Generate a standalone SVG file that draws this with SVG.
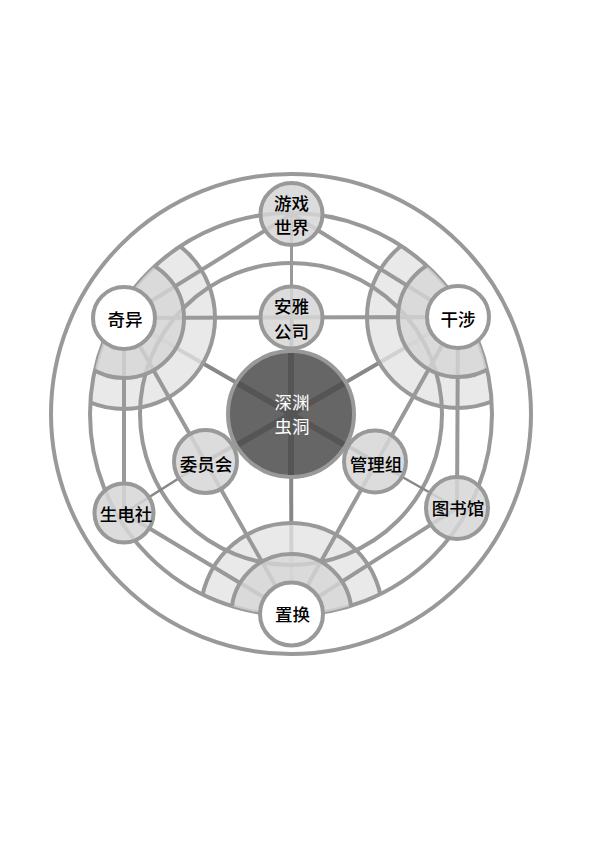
<svg xmlns="http://www.w3.org/2000/svg" width="595" height="842" viewBox="0 0 595 842">
<defs>
<clipPath id="inner"><circle cx="291" cy="414" r="201"/></clipPath>
<style>
.ln{stroke:#999;stroke-width:4;fill:none}
.sp{stroke:#888;stroke-width:4;fill:none}
.thin{stroke:#888;stroke-width:2.5;fill:none}
.halo{fill:#e4e4e4;fill-opacity:0.8}
.core{fill:#d6d6d6;fill-opacity:0.8}
.rim{fill:none;stroke:#999;stroke-width:4}
.nd{stroke:#999;stroke-width:4}
.gray{fill:#d6d6d6;fill-opacity:0.85}
.white{fill:#fff}
.dk{stroke:#555;stroke-width:6}
text{font-family:"Noto Sans CJK SC","Noto Sans",sans-serif;font-size:17.5px;font-weight:500;fill:#000;text-anchor:middle;dominant-baseline:central}
.wt{fill:#fff;font-weight:400}
</style>
</defs>
<rect width="595" height="842" fill="#fff"/>

<g id="spokes">
<line class="sp" x1="291" y1="414" x2="124" y2="318"/>
<line class="sp" x1="291" y1="414" x2="458" y2="317"/>
<line class="sp" x1="291" y1="414" x2="291.5" y2="614"/>
<line class="sp" x1="291" y1="414" x2="205.5" y2="461.5"/>
<line class="sp" x1="291" y1="414" x2="375" y2="461.5"/>
<line class="sp" x1="291" y1="414" x2="291.5" y2="317.5"/>
</g>

<g id="zones-halo" clip-path="url(#inner)">
<circle class="halo" cx="124" cy="318" r="91"/>
<circle class="halo" cx="458" cy="317" r="91"/>
<circle class="halo" cx="291.5" cy="614" r="91"/>
</g>

<g id="connectors">
<circle class="ln" cx="291" cy="414" r="240"/>
<circle class="ln" cx="291" cy="414" r="201"/>
<circle class="ln" cx="291" cy="414" r="151"/>
<polygon class="ln" points="291.5,214 458,317 457,508 291.5,614 124,513 124,318"/>
<polygon class="ln" points="124,318 458,317 291.5,614"/>
<line class="ln" style="stroke-width:3" x1="291.5" y1="214" x2="291.5" y2="317.5"/>
<line class="thin" x1="205.5" y1="461.5" x2="124" y2="513"/>
<line class="thin" x1="375" y1="461.5" x2="457" y2="508"/>
</g>

<g id="zones-core" clip-path="url(#inner)">
<circle class="core" cx="124" cy="318" r="60"/>
<circle class="core" cx="458" cy="317" r="60"/>
<circle class="core" cx="291.5" cy="614" r="60"/>
<circle class="rim" cx="124" cy="318" r="60"/>
<circle class="rim" cx="458" cy="317" r="60"/>
<circle class="rim" cx="291.5" cy="614" r="60"/>
<circle class="rim" cx="124" cy="318" r="91"/>
<circle class="rim" cx="458" cy="317" r="91"/>
<circle class="rim" cx="291.5" cy="614" r="91"/>
</g>

<g id="node-center">
<circle cx="291" cy="414" r="63" fill="#666" stroke="#999" stroke-width="4"/>
<line class="dk" x1="291" y1="414" x2="291" y2="353"/>
<line class="dk" x1="291" y1="414" x2="291" y2="475"/>
<line class="dk" x1="291" y1="414" x2="238.2" y2="383.5"/>
<line class="dk" x1="291" y1="414" x2="343.8" y2="383.5"/>
<line class="dk" x1="291" y1="414" x2="238.2" y2="444.5"/>
<line class="dk" x1="291" y1="414" x2="343.8" y2="444.5"/>
<text class="wt" x="292" y="401">深渊</text>
<text class="wt" x="292" y="425">虫洞</text>
</g>

<g id="node-youxi">
<circle class="nd gray" cx="291.5" cy="214" r="31"/>
<text x="291.5" y="202">游戏</text>
<text x="291.5" y="226.5">世界</text>
</g>
<g id="node-anya">
<circle class="nd gray" cx="291.5" cy="317.5" r="31"/>
<text x="291.5" y="305.5">安雅</text>
<text x="291.5" y="330">公司</text>
</g>
<g id="node-qiyi">
<circle class="nd white" cx="124" cy="318" r="31"/>
<text x="125" y="318">奇异</text>
</g>
<g id="node-ganshe">
<circle class="nd white" cx="458" cy="317" r="31"/>
<text x="458" y="318">干涉</text>
</g>
<g id="node-weiyuanhui">
<circle class="nd gray" cx="205.5" cy="461.5" r="31.5"/>
<text x="206" y="463">委员会</text>
</g>
<g id="node-guanlizu">
<circle class="nd gray" cx="375" cy="461.5" r="31"/>
<text x="376" y="463">管理组</text>
</g>
<g id="node-shengdianshe">
<circle class="nd gray" cx="124" cy="513" r="29.5"/>
<text x="126" y="513">生电社</text>
</g>
<g id="node-tushuguan">
<circle class="nd gray" cx="457" cy="508" r="31"/>
<text x="458" y="507">图书馆</text>
</g>
<g id="node-zhihuan">
<circle class="nd white" cx="291.5" cy="614" r="31.5"/>
<text x="292.5" y="613.5">置换</text>
</g>
</svg>
